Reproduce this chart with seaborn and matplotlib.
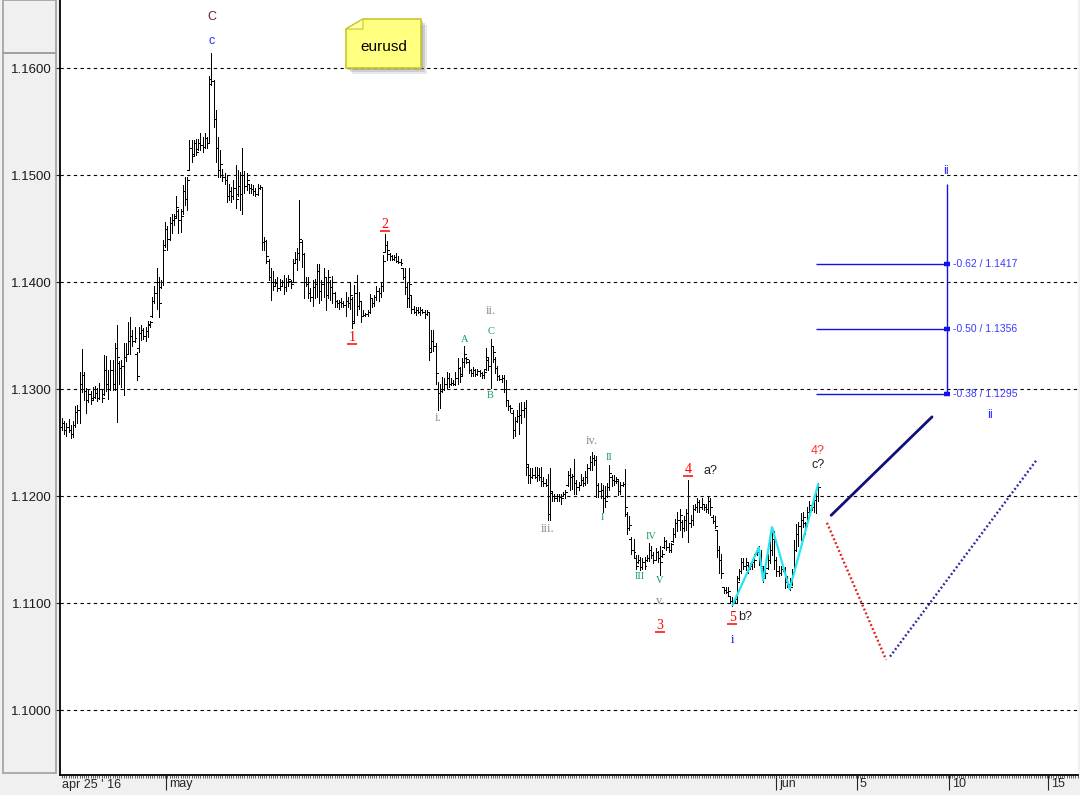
import numpy as np
import matplotlib
matplotlib.use("Agg")
import matplotlib.pyplot as plt
import matplotlib.patches as mpatches
import matplotlib.ticker as ticker
import matplotlib.transforms as mtransforms
import seaborn as sns

# eurusd bars, pips above 1.1000, one value per bar
bar_high = [
    273, 270, 268, 272, 266, 270, 284, 285, 316, 337, 316, 301, 300, 298, 302, 303, 301, 306, 300, 332,
    331, 318, 327, 327, 343, 360, 326, 327, 343, 343, 363, 367, 355, 358, 335, 358, 360, 357, 358, 364,
    364, 386, 396, 413, 405, 402, 439, 456, 452, 461, 464, 464, 480, 468, 468, 491, 498, 498, 533, 533,
    533, 534, 534, 539, 536, 539, 536, 593, 614, 589, 561, 536, 523, 506, 502, 500, 492, 489, 495, 509,
    505, 503, 525,
    504, 502, 492, 492, 491, 488, 492, 491, 489, 442, 439, 422, 413, 410, 403, 405, 403, 402, 407, 404,
    407, 402, 422, 428, 432, 477, 439, 427, 405, 405, 394, 402, 403, 417, 417, 402, 413, 405, 411, 402,
    406, 391, 383, 383, 385, 382, 391, 386, 400, 386, 397, 407, 391, 382, 374, 371, 374, 389, 385, 388,
    396, 394, 399, 425, 445, 438, 427, 425, 425, 427, 424, 422, 413, 413, 399, 413, 388, 378, 377, 377,
    377, 375, 374, 374, 372, 355, 355, 343,
    307, 305, 311, 310, 316, 315, 310, 308, 316, 329, 321, 329, 340, 330, 327, 319, 321, 319, 319, 318,
    316, 318, 338, 329, 347, 340, 330, 322, 313, 313, 313, 308, 290, 285, 280, 274, 280, 287, 288, 288,
    290, 229, 226, 226, 227, 227, 226, 227, 218, 216, 221, 226, 204, 202, 202, 202, 202, 204, 206, 223,
    226, 221, 235, 215, 213, 221, 218, 223, 230, 237, 241, 238, 237, 212, 212, 210, 209, 212, 229, 220,
    220, 218, 215, 213, 213, 225, 185, 181, 162, 160,
    145, 145, 143, 142, 143, 145, 156, 153, 148, 151, 149, 153, 150, 162, 159, 156, 156, 170, 179, 185,
    188, 178, 181, 188, 215, 182, 192, 193, 198, 196, 198, 193, 193, 199, 198, 182, 181, 168, 153, 146,
    115, 115, 115, 107, 106, 106, 125, 132, 142, 142, 142, 137, 137, 139, 146, 151, 153, 150, 134, 134,
    146, 160, 171, 167, 143, 135, 135, 134, 134, 125, 123, 132, 159, 174, 176, 184, 185, 176, 190, 195,
    193, 199, 204, 212,
]
bar_low = [
    262, 258, 256, 260, 254, 255, 265, 268, 268, 297, 290, 278, 288, 286, 291, 292, 289, 291, 288, 294,
    298, 291, 299, 299, 299, 269, 305, 302, 294, 326, 333, 333, 340, 344, 308, 335, 346, 347, 345, 349,
    358, 367, 380, 375, 367, 394, 397, 433, 430, 439, 446, 453, 461, 446, 447, 464, 472, 467, 505, 512,
    519, 519, 523, 523, 522, 525, 525, 530, 584, 545, 512, 498, 498, 494, 492, 475, 477, 475, 478, 469,
    480, 467, 464,
    483, 486, 483, 483, 481, 480, 481, 487, 430, 430, 418, 402, 383, 393, 396, 392, 393, 396, 389, 392,
    396, 394, 400, 418, 411, 421, 414, 385, 396, 385, 382, 378, 385, 386, 380, 383, 386, 374, 385, 383,
    380, 377, 377, 375, 377, 377, 368, 377, 375, 357, 363, 369, 375, 363, 368, 368, 368, 371, 377, 378,
    383, 382, 386, 392, 428, 421, 421, 421, 421, 419, 418, 416, 403, 389, 377, 377, 371, 371, 369, 371,
    369, 371, 366, 369, 327, 336, 336, 305,
    280, 282, 297, 299, 301, 302, 304, 304, 304, 305, 307, 313, 321, 324, 315, 312, 312, 312, 313, 312,
    310, 310, 318, 318, 301, 325, 315, 308, 308, 307, 297, 284, 280, 279, 254, 256, 269, 258, 268, 274,
    220, 212, 212, 217, 217, 214, 215, 209, 209, 209, 178, 178, 195, 195, 195, 195, 193, 200, 198, 209,
    206, 207, 202, 202, 206, 210, 209, 210, 212, 224, 224, 229, 199, 199, 198, 185, 190, 199, 206, 209,
    210, 212, 201, 202, 209, 181, 165, 168, 146, 142,
    132, 137, 131, 132, 132, 139, 139, 142, 137, 140, 138, 126, 143, 151, 150, 148, 148, 157, 162, 167,
    168, 162, 167, 168, 157, 171, 173, 187, 185, 185, 188, 187, 185, 184, 182, 175, 170, 143, 128, 123,
    109, 109, 107, 100, 97, 100, 100, 122, 128, 132, 131, 128, 132, 132, 134, 145, 136, 131, 120, 123,
    132, 137, 145, 132, 125, 125, 126, 130, 114, 115, 112, 117, 128, 149, 153, 159, 171, 165, 174, 184,
    187, 185, 184, 195,
]
bar_open = [
    265, 268, 262, 265, 262, 258, 266, 279, 280, 305, 313, 298, 290, 295, 292, 293, 296, 292, 300, 295,
    318, 305, 300, 318, 305, 338, 324, 320, 322, 330, 333, 345, 350, 345, 333, 338, 352, 355, 350, 354,
    361, 368, 382, 390, 400, 395, 400, 435, 450, 440, 455, 458, 462, 466, 458, 466, 485, 478, 505, 525,
    520, 530, 524, 530, 528, 526, 535, 530, 590, 588, 552, 525, 505, 500, 498, 495, 480, 485, 480, 488,
    482, 490, 482,
    500, 490, 492, 488, 487, 485, 482, 488, 489, 437, 438, 420, 405, 400, 396, 399, 394, 396, 400, 395,
    400, 401, 400, 418, 422, 427, 437, 426, 400, 398, 390, 386, 395, 398, 410, 392, 398, 405, 388, 400,
    395, 390, 382, 380, 381, 380, 379, 382, 380, 384, 364, 390, 378, 382, 368, 369, 370, 372, 385, 380,
    386, 392, 390, 396, 428, 435, 426, 424, 422, 423, 420, 419, 413, 405, 395, 385, 388, 375, 372, 374,
    372, 374, 372, 370, 372, 338, 345, 340,
    300, 296, 298, 300, 305, 310, 305, 306, 305, 310, 320, 314, 325, 329, 325, 318, 315, 318, 314, 317,
    315, 313, 319, 327, 322, 340, 328, 320, 312, 309, 310, 300, 290, 284, 278, 262, 270, 275, 276, 280,
    282, 227, 220, 218, 220, 218, 220, 218, 214, 212, 210, 183, 203, 200, 198, 200, 199, 200, 202, 210,
    220, 218, 219, 212, 208, 210, 215, 212, 218, 226, 232, 236, 234, 210, 205, 206, 198, 200, 208, 218,
    215, 214, 214, 205, 210, 211, 183, 170, 160, 150,
    142, 138, 140, 134, 138, 140, 142, 150, 145, 140, 148, 142, 144, 152, 158, 152, 150, 158, 165, 175,
    178, 176, 170, 178, 184, 175, 178, 188, 190, 194, 190, 193, 190, 188, 195, 180, 177, 168, 150, 140,
    115, 112, 110, 107, 102, 100, 104, 123, 130, 138, 135, 136, 132, 135, 138, 146, 148, 145, 133, 123,
    133, 140, 150, 160, 140, 130, 128, 132, 133, 120, 118, 118, 128, 150, 165, 172, 178, 175, 175, 185,
    192, 190, 196, 200,
]
bar_close = [
    268, 262, 265, 262, 258, 266, 279, 280, 305, 313, 298, 290, 295, 290, 293, 296, 292, 300, 292, 318,
    305, 300, 318, 305, 338, 330, 320, 322, 330, 333, 345, 350, 345, 348, 312, 352, 355, 350, 354, 360,
    363, 382, 390, 400, 380, 400, 430, 450, 440, 455, 458, 460, 470, 458, 462, 485, 478, 495, 525, 518,
    530, 522, 530, 528, 526, 535, 530, 585, 588, 552, 525, 505, 510, 498, 495, 480, 485, 480, 488, 478,
    490, 482, 500,
    490, 495, 488, 487, 485, 482, 488, 489, 437, 438, 424, 405, 400, 396, 399, 394, 396, 400, 395, 400,
    403, 398, 418, 422, 427, 440, 426, 400, 398, 390, 386, 395, 398, 410, 392, 398, 405, 388, 405, 395,
    400, 382, 380, 381, 380, 379, 382, 380, 388, 362, 390, 378, 382, 368, 369, 370, 372, 385, 380, 386,
    392, 390, 396, 420, 435, 430, 424, 422, 423, 420, 419, 418, 405, 395, 385, 398, 375, 372, 374, 372,
    374, 372, 370, 372, 335, 345, 340, 315,
    296, 298, 300, 305, 310, 305, 306, 305, 310, 320, 312, 325, 333, 328, 318, 315, 318, 314, 317, 315,
    313, 316, 330, 322, 340, 335, 320, 312, 309, 310, 300, 290, 284, 282, 262, 270, 275, 276, 280, 282,
    230, 220, 218, 220, 218, 220, 218, 214, 212, 210, 183, 205, 200, 198, 200, 199, 198, 202, 204, 220,
    218, 219, 212, 208, 210, 215, 212, 218, 226, 232, 236, 234, 210, 205, 206, 198, 195, 208, 222, 215,
    214, 216, 205, 210, 211, 190, 170, 173, 150, 148,
    135, 140, 134, 138, 135, 142, 150, 145, 140, 148, 142, 138, 146, 158, 152, 150, 155, 165, 175, 178,
    182, 170, 178, 184, 175, 178, 188, 190, 194, 190, 193, 190, 188, 195, 190, 177, 172, 150, 140, 128,
    112, 110, 111, 102, 100, 104, 120, 130, 138, 135, 138, 132, 135, 138, 140, 148, 145, 135, 123, 128,
    140, 150, 160, 140, 130, 128, 132, 133, 120, 118, 115, 128, 150, 165, 172, 178, 180, 172, 185, 192,
    190, 196, 200, 208,
]

# cyan sub-wave drawn on the last swing (bar index, price)
wave_bar = [305, 317, 319, 323, 331, 344]
wave_price = [1.1098, 1.1152, 1.1121, 1.1171, 1.1113, 1.1211]

# projected paths
path_up_bar = [349.9, 395.8]
path_up_price = [1.1182, 1.1274]
path_down_bar = [348.0, 374.9]
path_down_price = [1.1175, 1.1047]
path_rebound_bar = [376.7, 443.1]
path_rebound_price = [1.1050, 1.1233]

# fibonacci retracement
fib_ratio = ["-0.62", "-0.50", "-0.38"]
fib_price = [1.1417, 1.1356, 1.1295]
fib_top = 1.1492
fib_bar = 402.6
fib_from = 343.0

price_ticks = [1.10, 1.11, 1.12, 1.13, 1.14, 1.15, 1.16]
date_tick_bar = [47.2, 324.8, 361.5, 403.7, 448.7]
date_tick_text = ["may", "jun", "5", "10", "15"]

RED, GRAY, GREEN = "#ff0000", "#8a8a8a", "#12a05a"
# wave labels: text, bar, price, colour, style
wave_labels = [
    ("C", 68, 1.16477, "#7a1050", "sans"),
    ("c", 68, 1.16252, "#2828ff", "sans"),
    ("1", 132, 1.13486, RED, "ul"),
    ("2", 147, 1.14542, RED, "ul"),
    ("i.", 171, 1.12729, GRAY, "serif"),
    ("A", 183, 1.13467, GREEN, "small"),
    ("ii.", 195, 1.13729, GRAY, "serif"),
    ("C", 195, 1.13542, GREEN, "small"),
    ("B", 195, 1.12944, GREEN, "small"),
    ("iii.", 221, 1.11692, GRAY, "serif"),
    ("iv.", 241, 1.12514, GRAY, "serif"),
    ("I", 246, 1.11804, GREEN, "small"),
    ("II", 249, 1.12364, GREEN, "small"),
    ("III", 263, 1.11252, GREEN, "small"),
    ("IV", 268, 1.11626, GREEN, "small"),
    ("V", 272, 1.11215, GREEN, "small"),
    ("v.", 272, 1.11019, GRAY, "serif"),
    ("3", 272, 1.10794, RED, "ul"),
    ("4", 285, 1.12252, RED, "ul"),
    ("a?", 295, 1.12234, "#202020", "sans"),
    ("5", 305, 1.10869, RED, "ul"),
    ("b?", 311, 1.10869, "#202020", "sans"),
    ("i", 305, 1.10654, "#0000ff", "serif"),
    ("4?", 344, 1.12421, "#ff3030", "sans"),
    ("c?", 344, 1.12290, "#202020", "sans"),
    ("ii", 422.2, 1.12757, "#3030ff", "sans"),
    ("ii", 402.2, 1.15037, "#3030ff", "sans"),
]

sns.set_style("white")
plt.rcParams["font.family"] = ["Liberation Sans", "DejaVu Sans"]

W, H = 1080, 795
fig = plt.figure(figsize=(W / 100, H / 100), dpi=100, facecolor="#f0f0f0")
ax = fig.add_axes([60 / W, 20 / H, 1018 / W, 775 / H])
ax.set_facecolor("white")

# left price panel frames
for y0, y1 in [(0, 53), (53, 773)]:
    fig.add_artist(mpatches.Rectangle((2.5 / W, 1 - y1 / H), 53.5 / W, (y1 - y0) / H,
                                      transform=fig.transFigure, fill=False,
                                      edgecolor="#a0a0a0", lw=1.2))

to_price = lambda pips: 1.1 + np.asarray(pips) / 10000.0
hi, lo = to_price(bar_high), to_price(bar_low)
op, cl = to_price(bar_open), to_price(bar_close)
xs = np.arange(len(hi))

ax.vlines(xs, lo, hi, color="black", lw=0.6, zorder=3, antialiased=False)
ax.hlines(op, xs - 0.9, xs, color="black", lw=0.6, zorder=3, antialiased=False)
ax.hlines(cl, xs, xs + 0.9, color="black", lw=0.6, zorder=3, antialiased=False)

sns.lineplot(x=wave_bar, y=wave_price, ax=ax, color="#22e6f0", lw=1.6,
             sort=False, estimator=None, zorder=4)
sns.lineplot(x=path_up_bar, y=path_up_price, ax=ax, color="#10107a", lw=2.0,
             sort=False, estimator=None)
sns.lineplot(x=path_down_bar, y=path_down_price, ax=ax, color="#e02020", lw=1.7,
             linestyle=(0, (0.8, 1.0)), sort=False, estimator=None)
sns.lineplot(x=path_rebound_bar, y=path_rebound_price, ax=ax, color="#2a2aa0", lw=1.7,
             linestyle=(0, (0.8, 1.0)), sort=False, estimator=None)

# fibonacci tool
fib_blue = "#1010ee"
ax.hlines(fib_price, fib_from, fib_bar, color=fib_blue, lw=1.0)
ax.vlines(fib_bar, fib_price[-1], fib_top, color=fib_blue, lw=1.0)
ax.hlines(fib_price, fib_bar - 1.3, fib_bar + 1.4, color=fib_blue, lw=3.2)
for r, p in zip(fib_ratio, fib_price):
    ax.text(fib_bar + 2.6, p, f"{r} / {p:.4f}", color="#3a3aff", fontsize=7.5,
            va="center", ha="left")

under = ax.transData + mtransforms.ScaledTranslation(0, -6.5 / 100, fig.dpi_scale_trans)
for txt, b, p, col, kind in wave_labels:
    if kind == "ul":
        ax.text(b, p, txt, color=col, fontsize=10, family="Liberation Serif",
                ha="center", va="center", zorder=5)
        ax.plot([b], [p], marker="_", ms=7, mew=1.1, color=col, transform=under, zorder=5)
    elif kind == "serif":
        ax.text(b, p, txt, color=col, fontsize=9, family="Liberation Serif",
                ha="center", va="center", zorder=5)
    elif kind == "small":
        ax.text(b, p, txt, color=col, fontsize=7.5, family="Liberation Serif",
                ha="center", va="center", zorder=5)
    else:
        ax.text(b, p, txt, color=col, fontsize=9, ha="center", va="center", zorder=5)

# axes
ax.set_xlim(-0.9, 462.2)
ax.set_ylim(1.09393, 1.16636)
ax.set_yticks(price_ticks)
ax.yaxis.set_major_formatter(ticker.FormatStrFormatter("%.4f"))
ax.grid(axis="y", color="black", linestyle=(0, (3, 3)), lw=0.8)
ax.grid(axis="x", visible=False)
ax.set_axisbelow(True)
ax.tick_params(axis="y", direction="out", length=3.6, width=0.8, pad=2.2,
               labelsize=9.5, colors="#1a1a1a", left=True)

ax.set_xticks(date_tick_bar)
ax.set_xticklabels(date_tick_text, ha="left")
ax.xaxis.set_minor_locator(ticker.MultipleLocator(1))
ax.tick_params(axis="x", which="major", direction="out", length=10.5, width=0.8,
               pad=-8.5, labelsize=9, bottom=True)
ax.tick_params(axis="x", which="minor", direction="out", length=2.2, width=0.5, bottom=True)
shift = mtransforms.ScaledTranslation(3 / 100, 0, fig.dpi_scale_trans)
for lab in ax.get_xticklabels():
    lab.set_transform(lab.get_transform() + shift)
ax.text(0, -0.0125, "apr 25 ' 16", transform=ax.get_xaxis_transform(),
        fontsize=9, ha="left", va="center")

for side in ["top", "right"]:
    ax.spines[side].set_visible(False)
for side in ["left", "bottom"]:
    ax.spines[side].set_color("black")
    ax.spines[side].set_linewidth(1.3)

# note box with the symbol name
fx = lambda px: px / W
fy = lambda py: 1 - py / H
note = [(346, 29), (363, 19), (421, 19), (421, 68), (346, 68)]
for off, a in [(6, 0.15), (4, 0.22), (2, 0.28)]:
    fig.add_artist(mpatches.Polygon([(fx(x + off), fy(y + off)) for x, y in note],
                                    closed=True, transform=fig.transFigure,
                                    facecolor="#707070", edgecolor="none", alpha=a))
fig.add_artist(mpatches.Polygon([(fx(x), fy(y)) for x, y in note], closed=True,
                                transform=fig.transFigure, facecolor="#ffff80",
                                edgecolor="#c8c828", lw=1.2))
fig.add_artist(mpatches.Polygon([(fx(346), fy(29)), (fx(363), fy(19)), (fx(363), fy(29))],
                                closed=True, transform=fig.transFigure,
                                facecolor="#ffffa8", edgecolor="#c8c828", lw=0.8))
fig.text(fx(384), fy(47), "eurusd", fontsize=11, ha="center", va="center", color="black")

fig.savefig("out.png", dpi=100, facecolor=fig.get_facecolor())
